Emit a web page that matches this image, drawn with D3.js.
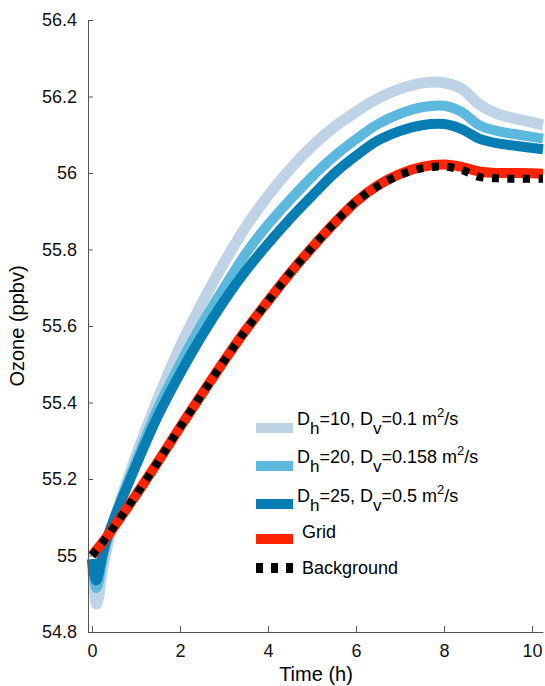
<!DOCTYPE html>
<html>
<head>
<meta charset="utf-8">
<script src="https://cdn.jsdelivr.net/npm/d3@7"></script>
<style>
  body { margin: 0; background: #fff; }
  svg { display: block; font-family: 'Liberation Sans', Arial, Helvetica, sans-serif; }
</style>
</head>
<body>
<svg id="chart" width="545" height="686"></svg>
<script>
// Shared time axis (h) the values were read at
const time = [0, 0.05, 0.1, 0.15, 0.2, 0.3, 0.5, 1, 1.5, 2, 2.5, 3, 3.5, 4, 4.5, 5, 5.5, 6, 6.5, 7, 7.5, 8, 8.4, 8.8, 9.2, 9.7, 10.25]

// Ozone (ppbv) per run
const ozoneDh10 = [54.99, 54.92, 54.873, 54.89, 54.935, 55.0, 55.09, 55.26, 55.41, 55.545, 55.66, 55.765, 55.86, 55.94, 56.01, 56.07, 56.12, 56.16, 56.195, 56.22, 56.235, 56.236, 56.22, 56.18, 56.155, 56.14, 56.126]
const ozoneDh20 = [54.99, 54.94, 54.915, 54.93, 54.965, 55.02, 55.095, 55.245, 55.385, 55.5, 55.605, 55.7, 55.79, 55.865, 55.93, 55.99, 56.043, 56.088, 56.128, 56.155, 56.172, 56.176, 56.16, 56.125, 56.11, 56.1, 56.09]
const ozoneDh25 = [54.99, 54.95, 54.935, 54.95, 54.98, 55.03, 55.095, 55.235, 55.365, 55.475, 55.575, 55.665, 55.745, 55.815, 55.88, 55.94, 55.998, 56.045, 56.085, 56.11, 56.125, 56.128, 56.115, 56.09, 56.078, 56.07, 56.062]
const ozoneGrid = [55.0, 55.007, 55.014, 55.021, 55.028, 55.043, 55.075, 55.158, 55.245, 55.335, 55.422, 55.508, 55.59, 55.665, 55.738, 55.805, 55.868, 55.925, 55.968, 55.998, 56.016, 56.022, 56.016, 56.004, 56.0, 56.0, 55.998]
const ozoneBackground = [55.0, 55.007, 55.014, 55.021, 55.028, 55.043, 55.075, 55.158, 55.245, 55.335, 55.422, 55.508, 55.59, 55.665, 55.738, 55.805, 55.868, 55.925, 55.966, 55.995, 56.012, 56.017, 56.008, 55.99, 55.986, 55.985, 55.985]

// Legend labels (_x = subscript, ^x = superscript)
const labels = ['D_h=10, D_v=0.1 m^2/s', 'D_h=20, D_v=0.158 m^2/s', 'D_h=25, D_v=0.5 m^2/s', 'Grid', 'Background']

// Tick values
const xTicks = [0, 2, 4, 6, 8, 10]
const yTicks = [54.8, 55, 55.2, 55.4, 55.6, 55.8, 56, 56.2, 56.4]

const series = [
  { values: ozoneDh10, color: '#bfd3e6', width: 11 },
  { values: ozoneDh20, color: '#5cb8dc', width: 10 },
  { values: ozoneDh25, color: '#067db3', width: 10 },
  { values: ozoneGrid, color: '#ff2400', width: 10 },
  { values: ozoneBackground, color: '#000', width: 8, dash: '7,8.5' }
]

const svg = d3.select('#chart')

const x = d3.scaleLinear().domain([-0.09, 10.25]).range([88, 543])
const y = d3.scaleLinear().domain([54.8, 56.4]).range([632, 20])

const line = d3.line()
  .x(function (d) { return x(d[0]) })
  .y(function (d) { return y(d[1]) })
  .curve(d3.curveCatmullRom.alpha(0.5))

// Draw the curves, lightest first
svg.append('g')
  .selectAll('path')
  .data(series)
  .enter().append('path')
  .attr('fill', 'none')
  .attr('stroke', function (d) { return d.color })
  .attr('stroke-width', function (d) { return d.width })
  .attr('stroke-dasharray', function (d) { return d.dash || null })
  .attr('stroke-linejoin', 'round')
  .attr('d', function (d) { return line(d.values.map(function (v, i) { return [time[i], v] })) })

// x-axis, ticks pointing inward
const xAxis = svg.append('g')
  .attr('transform', 'translate(0, 632)')
  .call(d3.axisBottom(x).tickValues(xTicks).tickSizeInner(-6).tickSizeOuter(0).tickPadding(12))
xAxis.select('.domain').attr('stroke', '#555')
xAxis.selectAll('.tick line').attr('stroke', '#555')
xAxis.selectAll('text')
  .attr('font-size', 18)
  .attr('font-family', 'Liberation Sans, Arial, sans-serif')
  .attr('fill', '#111')

// y-axis
const yAxis = svg.append('g')
  .attr('transform', 'translate(88, 0)')
  .call(d3.axisLeft(y).tickValues(yTicks).tickFormat(d3.format('~g')).tickSizeInner(-5).tickSizeOuter(0).tickPadding(11))
yAxis.select('.domain').attr('stroke', '#555')
yAxis.selectAll('.tick line').attr('stroke', '#555')
yAxis.selectAll('text')
  .attr('font-size', 18)
  .attr('font-family', 'Liberation Sans, Arial, sans-serif')
  .attr('fill', '#111')

// Axis titles
svg.append('text')
  .attr('x', 316)
  .attr('y', 681)
  .attr('text-anchor', 'middle')
  .attr('font-size', 20)
  .text('Time (h)')

svg.append('text')
  .attr('transform', 'translate(24, 326) rotate(-90)')
  .attr('text-anchor', 'middle')
  .attr('font-size', 20)
  .text('Ozone (ppbv)')

// Legend
const legendSample = [428, 466, 504, 539, 568]
const legendText = [425, 463, 501.5, 538, 574]
const legend = svg.append('g')

legend.selectAll('line')
  .data(series)
  .enter().append('line')
  .attr('x1', 256).attr('x2', 293)
  .attr('y1', function (d, i) { return legendSample[i] })
  .attr('y2', function (d, i) { return legendSample[i] })
  .attr('stroke', function (d) { return d.color })
  .attr('stroke-width', 10)
  .attr('stroke-dasharray', function (d) { return d.dash ? '7,8' : null })

labels.forEach(function (label, i) {
  const t = legend.append('text')
    .attr('x', i < 3 ? 297 : 302)
    .attr('y', legendText[i])
    .attr('font-size', 18)
  // split into plain, subscript and superscript parts
  const parts = label.split(/([_^].)/).filter(function (p) { return p.length })
  let shift = 0
  parts.forEach(function (p) {
    let dy = -shift
    let size = 18
    if (p[0] === '_') { shift = 9; size = 17 } else if (p[0] === '^') { shift = -8; size = 13 } else { shift = 0 }
    dy += shift
    t.append('tspan')
      .attr('dy', dy)
      .attr('font-size', size)
      .text(p[0] === '_' || p[0] === '^' ? p.slice(1) : p)
  })
})
</script>
</body>
</html>
